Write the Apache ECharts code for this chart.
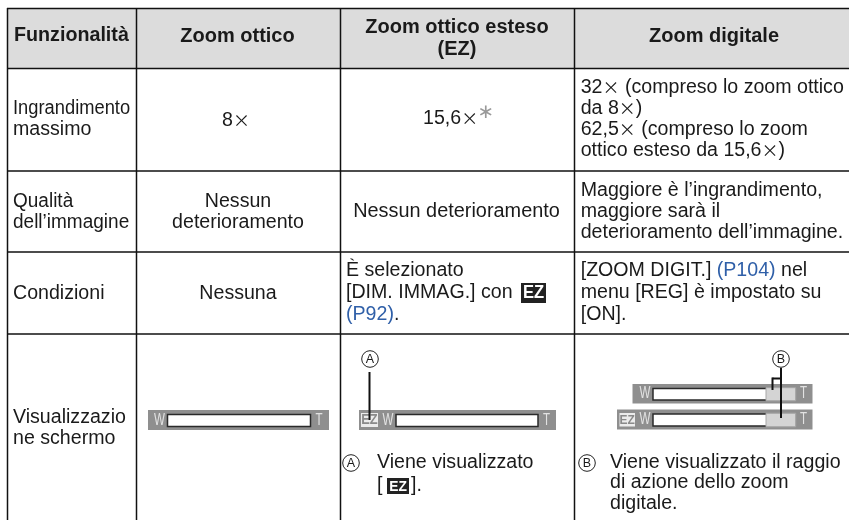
<!DOCTYPE html>
<html>
<head>
<meta charset="utf-8">
<style>
  html, body { margin: 0; padding: 0; background: #fff; }
  #main { width: 849px; height: 520px; }
</style>
<script src="https://cdn.jsdelivr.net/npm/echarts@6/dist/echarts.min.js"></script>
</head>
<body>
<div id="main"></div>
<script>
// table text
const headers = ['Funzionalità', 'Zoom ottico', ['Zoom ottico esteso', '(EZ)'], 'Zoom digitale']
const featureLabels = [
  ['Ingrandimento', 'massimo'],
  ['Qualità', 'dell’immagine'],
  ['Condizioni'],
  ['Visualizzazio', 'ne schermo']
]
const opticalCells = [['8{x|×}'], ['Nessun', 'deterioramento'], ['Nessuna']]
const extendedCells = [
  ['15,6{x|×}'],
  ['Nessun deterioramento'],
  ['È selezionato', '[DIM. IMMAG.] con', '{link|(P92)}.']
]
const digitalCells = [
  ['32{x|×} (compreso lo zoom ottico', 'da 8{x|×})', '62,5{x|×} (compreso lo zoom', 'ottico esteso da 15,6{x|×})'],
  ['Maggiore è l’ingrandimento,', 'maggiore sarà il', 'deterioramento dell’immagine.'],
  ['[ZOOM DIGIT.] {link|(P104)} nel', 'menu [REG] è impostato su', '[ON].']
]
const noteA = ['Viene visualizzato']
const noteB = ['Viene visualizzato il raggio', 'di azione dello zoom', 'digitale.']

// layout of the page
const colX = [7.5, 136.5, 340.5, 574.5]
const rowY = [8.5, 68.5, 171, 252, 334]
const ink = '#1a1a1a'
const BODY = 19.6
const FONT = '"Liberation Sans", Arial, sans-serif'

const els = []

function line (x1, y1, x2, y2, width) {
  els.push({ type: 'line', shape: { x1, y1, x2, y2 }, style: { stroke: '#111', lineWidth: width || 1.5 } })
}
function box (x, y, w, h, fill, stroke, lw) {
  els.push({ type: 'rect', shape: { x, y, width: w, height: h }, style: { fill, stroke: stroke || null, lineWidth: lw || 0 } })
}
function text (s, x, y, opts) {
  const o = opts || {}
  els.push({
    type: 'text',
    x,
    // body text sits a little high with middle alignment
    y: o.size ? y : y + 1,
    scaleX: o.scaleX || 1,
    style: {
      text: s,
      fill: o.fill || ink,
      font: (o.bold ? 'bold ' : '') + (o.size || BODY) + 'px ' + (o.family || FONT),
      textAlign: o.align || 'left',
      textVerticalAlign: 'middle',
      rich: {
        link: { fill: '#2f5fa8', font: BODY + 'px ' + FONT },
        x: { fill: ink, font: '17px "Noto Sans CJK JP"' }
      }
    }
  })
}
function lines (arr, x, ys, opts) {
  arr.forEach((s, i) => text(s, x, ys[i], opts))
}
function circled (letter, cx, cy) {
  els.push({ type: 'circle', shape: { cx, cy, r: 8.3 }, style: { fill: '#fff', stroke: '#222', lineWidth: 1 } })
  text(letter, cx, cy + 0.5, { size: 12.5, align: 'center' })
}
function ezIcon (x, y, w, h, fill, letter, size) {
  box(x, y, w, h, fill)
  text('EZ', x + w / 2, y + h / 2 + 0.5, { size, bold: true, fill: letter, align: 'center', scaleX: 0.92 })
}
// zoom bar: grey strip, white gauge, W and T
function zoomBar (x0, x1, y0, y1, gx0, gx1, digital) {
  box(x0, y0, x1 - x0, y1 - y0, '#8f8f8f')
  box(gx0, y0 + 4.5, gx1 - gx0, y1 - y0 - 8, '#fff', '#2a2a2a', 1.5)
  if (digital) box(766, y0 + 3.7, gx1 - 766 + 0.7, y1 - y0 - 6.4, '#d4d4d4', '#a8a8a8', 1)
  const mid = (y0 + y1) / 2
  text('W', gx0 - 2.5, mid, { size: 16.5, fill: '#e2e2e2', align: 'right', scaleX: 0.7 })
  text('T', gx1 + 8.5, mid, { size: 16.5, fill: '#e2e2e2', align: 'center', scaleX: 0.7 })
}

// header band and grid lines
box(7.5, 8.5, 841.5, 60, '#dcdcdc')
rowY.forEach(y => line(7, y, 849, y))
colX.forEach(x => line(x, 8, x, 520))

// header
text(headers[0], 14, 36, { bold: true, size: 19.7 })
text(headers[1], 237.5, 36, { bold: true, size: 20, align: 'center' })
lines(headers[2], 457, [27, 49], { bold: true, size: 20, align: 'center' })
text(headers[3], 714, 36, { bold: true, size: 20, align: 'center' })

// first column
text(featureLabels[0][0], 13, 108, { scaleX: 0.935 })
text(featureLabels[0][1], 13, 129)
lines(featureLabels[1], 13, [201, 222], { scaleX: 0.97 })
lines(featureLabels[2], 13, [293])
lines(featureLabels[3], 13, [417, 438])

// optical zoom column
text(opticalCells[0][0], 236, 120, { align: 'center' })
lines(opticalCells[1], 238, [201, 222], { align: 'center' })
text(opticalCells[2][0], 238, 293, { align: 'center' })

// extended zoom column
text(extendedCells[0][0], 423, 118)
text('∗', 486, 113, { size: 20, fill: '#9a9a9a', align: 'center', family: '"DejaVu Sans"' })
text(extendedCells[1][0], 456.5, 211, { align: 'center', scaleX: 1.015 })
lines(extendedCells[2], 346, [270, 292, 314])
ezIcon(521, 283, 25, 20, '#222', '#fff', 18)

// digital zoom column
lines(digitalCells[0], 580.7, [86.5, 108, 128.5, 150])
lines(digitalCells[1], 580.7, [190, 211, 232])
lines(digitalCells[2], 580.7, [270, 292, 314])

// bottom row, optical
zoomBar(148, 329, 410, 430, 167.5, 310.5)

// bottom row, extended
zoomBar(359, 556, 410, 430, 396, 538)
ezIcon(361, 413, 17, 14, '#ececec', '#8a8a8a', 14)
line(369.5, 372, 369.5, 420, 2)
circled('A', 370, 359)
circled('A', 351, 463)
lines(noteA, 377, [462])
text('[', 377, 485)
ezIcon(387, 478, 22, 16, '#222', '#fff', 15)
text('].', 411, 485)

// bottom row, digital
zoomBar(632.5, 812.5, 384, 403.5, 653, 795, true)
zoomBar(617, 812.5, 409.5, 429.5, 653, 795, true)
ezIcon(619.5, 413, 15.5, 13.5, '#ececec', '#8a8a8a', 13)
line(781, 368, 781, 418, 2)
line(781, 378.5, 772.5, 378.5, 2)
line(772.5, 377.5, 772.5, 390, 2)
circled('B', 781, 359)
circled('B', 587, 463)
lines(noteB, 610, [462, 482, 503])

const chart = echarts.init(document.getElementById('main'), null, { renderer: 'canvas' })
chart.setOption({
  backgroundColor: '#fff',
  animation: false,
  graphic: { elements: els }
})
</script>
</body>
</html>
